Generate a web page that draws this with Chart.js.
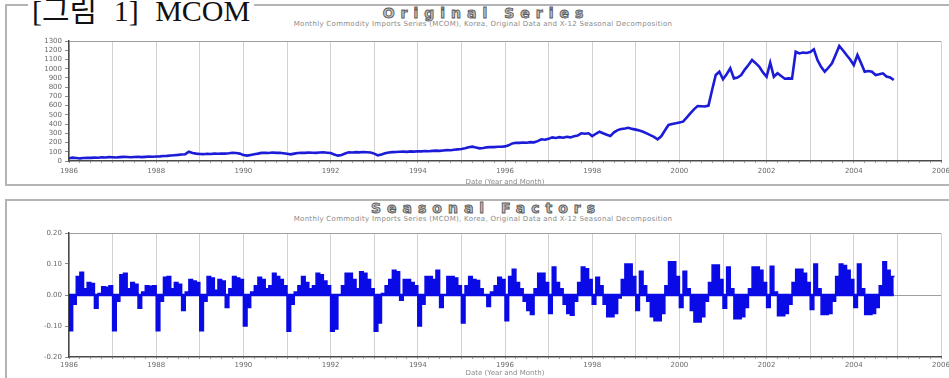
<!DOCTYPE html>
<html>
<head>
<meta charset="utf-8">
<script src="https://cdn.jsdelivr.net/npm/chart.js@4.4.1/dist/chart.umd.min.js"></script>
<style>
  html, body { margin: 0; padding: 0; background: #fff; overflow: hidden; }
  body { width: 949px; height: 378px; position: relative; }
  .frame { position: absolute; box-sizing: border-box; border: 2px solid #b4b4b4; }
  .box { position: absolute; left: 0; }
  .title {
    position: absolute; left: 0; width: 966px; text-align: center; padding-left: 6px; box-sizing: border-box;
    font-family: "DejaVu Sans"; font-weight: bold; font-size: 14px; line-height: 16px;
    letter-spacing: 6px; color: #c4c4c4; -webkit-text-stroke: 0.9px #5a5a5a;
  }
  .sub {
    position: absolute; left: 0; width: 966px; text-align: center;
    font-family: "DejaVu Sans"; font-size: 7px; line-height: 8px; color: #8a8a8a; letter-spacing: 0.3px;
  }
  #fig {
    position: absolute; left: 28px; top: -6px; padding: 0 4px; background: #fff;
    font-family: "Liberation Serif", "Noto Sans CJK KR", serif; font-size: 30px; line-height: 34px;
    color: #111; word-spacing: 9px;
  }
</style>
</head>
<body>
<div class="frame" style="left:5px; top:4px; width:960px; height:182px;"></div>
<div class="frame" style="left:5px; top:199px; width:960px; height:190px;"></div>
<div id="fig">[그림 1] MCOM</div>

<div class="title" style="top:5px;">Original Series</div>
<div class="sub" style="top:20px;">Monthly Commodity Imports Series (MCOM), Korea, Original Data and X-12 Seasonal Decomposition</div>
<div class="title" style="top:200px;">Seasonal Factors</div>
<div class="sub" style="top:215px;">Monthly Commodity Imports Series (MCOM), Korea, Original Data and X-12 Seasonal Decomposition</div>

<div class="box" style="top:0px; width:960px; height:190px;"><canvas id="top-chart" width="960" height="190"></canvas></div>
<div class="box" style="top:190px; width:960px; height:188px;"><canvas id="bottom-chart" width="960" height="188"></canvas></div>

<script>
// Monthly data, Jan 1986 onwards
const startYear = 1986;
const endYear = 2006;
const axisTitle = "Date (Year and Month)";

// Original series, one row per year
const originalSeries = [
  30, 36, 33, 28, 32, 35, 34, 37, 36, 40, 38, 42,
  40, 38, 42, 45, 43, 40, 44, 46, 42, 45, 48, 46,
  48, 50, 54, 56, 60, 63, 66, 70, 74, 100, 86, 80,
  76, 74, 78, 76, 80, 78, 82, 80, 84, 90, 86, 80,
  64, 58, 66, 74, 80, 88, 90, 86, 92, 88, 90, 84,
  78, 72, 80, 86, 90, 88, 92, 90, 88, 92, 94, 90,
  86, 70, 58, 66, 82, 94, 92, 96, 94, 98, 95, 92,
  80, 61, 70, 84, 92, 96, 98, 100, 102, 99, 104, 102,
  106, 104, 108, 106, 110, 112, 110, 114, 118, 116, 122, 126,
  130, 138, 150, 155, 146, 137, 140, 148, 152, 150, 154, 155,
  158, 170, 190, 198, 196, 200, 198, 204, 202, 215, 235, 230,
  240, 256, 250, 258, 252, 262, 256, 268, 275, 300, 295, 300,
  270, 295, 317, 300, 285, 270, 310, 335, 346, 352, 360, 348,
  340, 330, 317, 300, 280, 262, 235, 268, 330, 390, 400, 408,
  418, 426, 470, 516, 560, 596, 593, 590, 600, 769, 931, 967,
  885, 940, 1004, 895, 905, 931, 990, 1040, 1094, 1060, 1021, 960,
  913, 1065, 913, 950, 920, 891, 895, 893, 1184, 1165, 1175, 1170,
  1180, 1210, 1094, 1020, 967, 1010, 1058, 1150, 1246, 1200, 1148, 1100,
  1040, 1148, 1060, 967, 975, 967, 931, 940, 950, 915, 906, 877
];

// Seasonal factors, one row per year
const seasonalFactors = [
  -0.115, -0.03, 0.06, 0.073, 0.02, 0.04, 0.037, -0.043, 0.005, 0.027, 0.025, 0.03,
  -0.115, -0.02, 0.065, 0.07, 0.02, 0.04, 0.035, -0.043, 0.01, 0.03, 0.028, 0.03,
  -0.115, -0.02, 0.057, 0.06, 0.02, 0.04, 0.035, -0.05, 0.01, 0.05, 0.045, 0.04,
  -0.115, -0.02, 0.06, 0.055, 0.015, 0.05, 0.045, -0.04, 0.02, 0.06, 0.055, 0.05,
  -0.1, -0.04, 0.01, 0.03, 0.057, 0.05, 0.02, 0.03, 0.07, 0.06, 0.05, 0.03,
  -0.117, -0.03, 0.01, 0.03, 0.06, 0.04, 0.02, 0.03, 0.07, 0.065, 0.045, 0.03,
  -0.117, -0.11, 0.0, 0.03, 0.07, 0.07, 0.05, 0.02, 0.075, 0.07, 0.05, 0.02,
  -0.117, -0.09, 0.005, 0.03, 0.05, 0.08, 0.075, -0.017, 0.05, 0.05, 0.04, 0.03,
  -0.1, -0.03, 0.06, 0.06, 0.05, 0.08, -0.04, 0.0, 0.06, 0.06, 0.055, 0.03,
  -0.09, 0.03, 0.06, 0.05, 0.047, 0.02, 0.0, -0.037, 0.01, 0.03, 0.057, 0.05,
  -0.083, 0.06, 0.083, 0.04, 0.02, -0.02, -0.05, -0.063, 0.02, 0.07, 0.07, 0.04,
  -0.06, 0.09, 0.04, 0.02, -0.03, -0.06, -0.065, -0.02, 0.04, 0.09, 0.085, 0.05,
  -0.03, 0.057, 0.03, -0.03, -0.07, -0.07, -0.06, -0.01, 0.05, 0.1, 0.1, 0.06,
  -0.05, 0.077, 0.03, -0.02, -0.07, -0.083, -0.083, -0.06, 0.03, 0.107, 0.107, 0.06,
  -0.04, 0.077, 0.02, -0.05, -0.087, -0.087, -0.07, -0.02, 0.04, 0.097, 0.097, 0.05,
  -0.043, 0.09, 0.02, -0.077, -0.077, -0.07, -0.04, 0.02, 0.09, 0.09, 0.08, 0.04,
  -0.04, 0.093, 0.01, -0.067, -0.067, -0.06, -0.03, 0.04, 0.083, 0.083, 0.07, 0.04,
  -0.047, 0.1, 0.02, -0.063, -0.063, -0.06, -0.02, 0.06, 0.1, 0.095, 0.08, 0.05,
  -0.04, 0.1, 0.02, -0.063, -0.063, -0.06, -0.04, 0.03, 0.107, 0.08, 0.06, 0.057
];

// Turn monthly values into {x: year, y: value}
function toPoints(values) {
  return values.map((v, i) => ({ x: startYear + i / 12, y: v }));
}

const tickFont = { family: "DejaVu Sans", size: 7 };
const lineBlue = "#1c1cd8";
const fillBlue = "#0a0ae6";

// Shared x axis (quarter tick marks, year grid, labels every 2 years)
function xAxis(height, labelPad, titlePad) {
  return {
    type: "linear",
    min: startYear,
    max: endYear,
    ticks: {
      stepSize: 0.25,
      autoSkip: false,
      maxRotation: 0,
      padding: labelPad,
      font: tickFont,
      color: "#6a6a6a",
      callback: (v) => (Number.isInteger(v) && v % 2 === 0 ? String(v) : ""),
    },
    grid: {
      color: (c) => (Number.isInteger(c.tick.value) ? "#d2d2d2" : "rgba(0,0,0,0)"),
      tickColor: "#9a9a9a",
      tickLength: 2,
    },
    border: { color: "#4a4a4a", width: 1.5 },
    title: {
      display: true,
      text: axisTitle,
      font: { family: "DejaVu Sans", size: 7 },
      color: "#8a8a8a",
      padding: { top: 0, bottom: titlePad },
    },
    afterFit: (s) => { s.height = height; },
  };
}

// Top chart: original series
new Chart(document.getElementById("top-chart"), {
  type: "line",
  data: {
    datasets: [{
      label: "Original Series",
      data: toPoints(originalSeries),
      borderColor: lineBlue,
      borderWidth: 2.6,
      pointRadius: 0,
      tension: 0,
    }],
  },
  options: {
    responsive: false,
    animation: false,
    devicePixelRatio: 1,
    layout: { padding: { left: 0, right: 19, top: 41, bottom: 0 } },
    plugins: { legend: { display: false }, tooltip: { enabled: false } },
    scales: {
      x: xAxis(29, 4, 4),
      y: {
        min: 0,
        max: 1300,
        ticks: {
          stepSize: 100,
          autoSkip: false,
          font: tickFont,
          color: "#6a6a6a",
          padding: 3,
          callback: (v) => String(v),
        },
        grid: {
          color: (c) => (c.tick.value === 1300 ? "#a0a0a0" : "rgba(0,0,0,0)"),
          tickColor: "#8a8a8a",
          tickLength: 4,
        },
        border: { color: "#4a4a4a", width: 1.5 },
        afterFit: (s) => { s.width = 69; },
      },
    },
  },
});

// Bottom chart: seasonal factors, with the blue zero line under the bars
new Chart(document.getElementById("bottom-chart"), {
  type: "line",
  data: {
    datasets: [
      {
        label: "Seasonal Factors",
        data: toPoints(seasonalFactors),
        borderColor: fillBlue,
        backgroundColor: fillBlue,
        borderWidth: 1.5,
        pointRadius: 0,
        stepped: true,
        fill: "origin",
      },
      {
        label: "Zero",
        data: toPoints(seasonalFactors.map(() => 0)),
        borderColor: fillBlue,
        borderWidth: 2.5,
        pointRadius: 0,
        fill: false,
      },
    ],
  },
  options: {
    responsive: false,
    animation: false,
    devicePixelRatio: 1,
    layout: { padding: { left: 0, right: 19, top: 43, bottom: 0 } },
    plugins: { legend: { display: false }, tooltip: { enabled: false } },
    scales: {
      x: xAxis(21, 2, 1),
      y: {
        min: -0.2,
        max: 0.2,
        ticks: {
          stepSize: 0.1,
          autoSkip: false,
          font: tickFont,
          color: "#6a6a6a",
          padding: 3,
          callback: (v) => (Math.abs(v) < 1e-9 ? "0.00" : v.toFixed(2)),
        },
        grid: {
          color: (c) => (Math.abs(c.tick.value) < 1e-9 || c.tick.value > 0.19 ? "#a0a0a0" : "rgba(0,0,0,0)"),
          tickColor: "#8a8a8a",
          tickLength: 4,
        },
        border: { color: "#4a4a4a", width: 1.5 },
        afterFit: (s) => { s.width = 69; },
      },
    },
  },
});
</script>
</body>
</html>
